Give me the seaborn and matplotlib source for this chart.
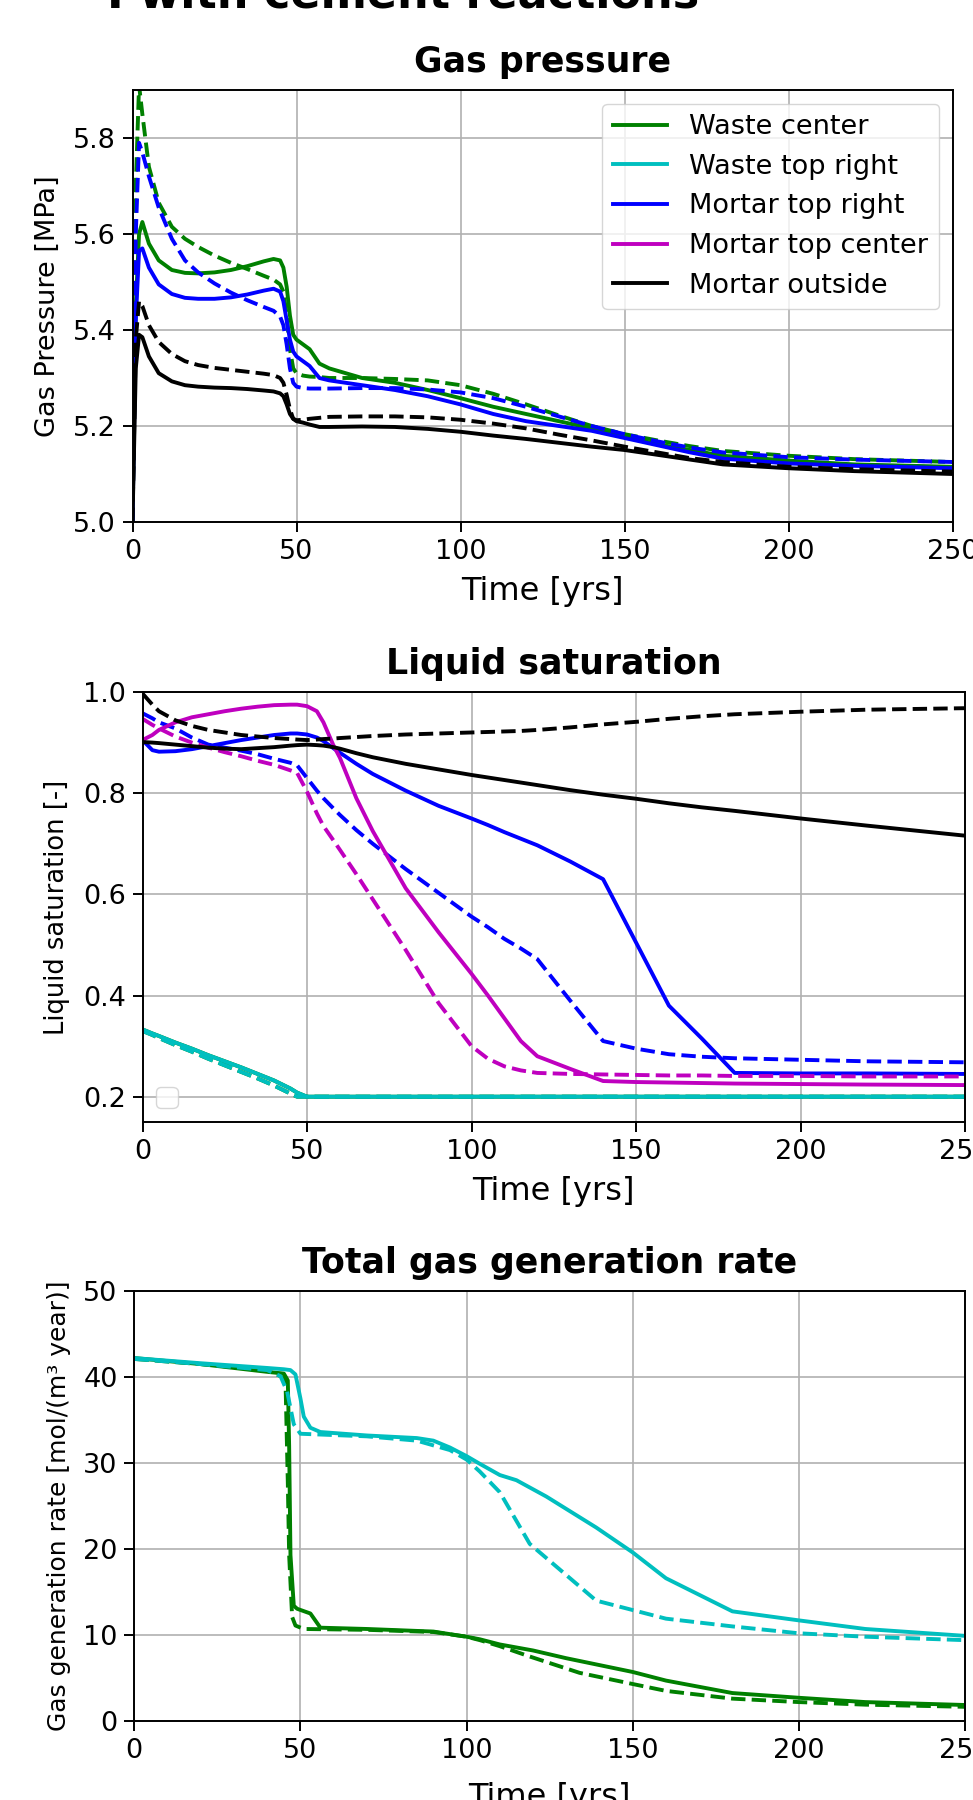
import matplotlib
matplotlib.use("Agg")
import matplotlib.pyplot as plt
import seaborn as sns
from matplotlib.lines import Line2D

# ---- data ---------------------------------------------------------------

# gas pressure [MPa], common time grid
t_press = [0, 1, 2, 3, 5, 8, 12, 16, 20, 25, 30, 35, 40, 43, 45, 46, 47, 48, 49, 50,
           52, 54, 57, 60, 70, 80, 90, 100, 110, 120, 130, 140, 150, 160, 170, 180,
           200, 220, 250]
p_center = [5.0, 5.45, 5.60, 5.625, 5.58, 5.545, 5.525, 5.519, 5.518, 5.52, 5.525, 5.533,
            5.543, 5.548, 5.545, 5.53, 5.49, 5.43, 5.39, 5.38, 5.37, 5.36, 5.33, 5.32,
            5.30, 5.29, 5.275, 5.258, 5.24, 5.225, 5.21, 5.195, 5.178, 5.162, 5.15,
            5.138, 5.128, 5.12, 5.115]
p_center_ref = [5.0, 5.7, 5.91, 5.85, 5.74, 5.665, 5.615, 5.59, 5.573, 5.555, 5.54, 5.527,
                5.513, 5.505, 5.495, 5.48, 5.43, 5.36, 5.32, 5.31, 5.305, 5.303, 5.302,
                5.30, 5.30, 5.298, 5.295, 5.285, 5.267, 5.245, 5.222, 5.20, 5.183, 5.17,
                5.158, 5.148, 5.138, 5.131, 5.125]
p_mtr = [5.0, 5.42, 5.565, 5.57, 5.53, 5.495, 5.475, 5.467, 5.465, 5.465, 5.468, 5.474,
         5.482, 5.486, 5.48, 5.46, 5.42, 5.38, 5.355, 5.345, 5.335, 5.325, 5.30, 5.295,
         5.285, 5.275, 5.262, 5.245, 5.225, 5.21, 5.20, 5.19, 5.175, 5.16, 5.145, 5.132,
         5.122, 5.117, 5.112]
p_mtr_ref = [5.0, 5.6, 5.79, 5.77, 5.72, 5.655, 5.59, 5.545, 5.52, 5.497, 5.478, 5.462,
             5.448, 5.44, 5.428, 5.41, 5.37, 5.32, 5.29, 5.282, 5.279, 5.278, 5.278, 5.278,
             5.279, 5.279, 5.276, 5.27, 5.258, 5.24, 5.22, 5.20, 5.183, 5.168, 5.155,
             5.145, 5.135, 5.13, 5.125]
p_out = [5.0, 5.32, 5.39, 5.385, 5.345, 5.31, 5.293, 5.285, 5.282, 5.28, 5.279, 5.277,
         5.274, 5.272, 5.268, 5.262, 5.245, 5.225, 5.215, 5.21, 5.207, 5.203, 5.198, 5.198,
         5.199, 5.198, 5.194, 5.188, 5.18, 5.173, 5.165, 5.157, 5.15, 5.14, 5.13, 5.12,
         5.112, 5.106, 5.10]
p_out_ref = [5.0, 5.38, 5.46, 5.45, 5.41, 5.375, 5.35, 5.335, 5.327, 5.321, 5.317, 5.313,
             5.309, 5.306, 5.30, 5.29, 5.265, 5.235, 5.215, 5.212, 5.213, 5.215, 5.217,
             5.219, 5.22, 5.22, 5.218, 5.213, 5.205, 5.195, 5.182, 5.17, 5.157, 5.145,
             5.133, 5.125, 5.115, 5.11, 5.105]

# liquid saturation [-], common time grid
t_sat = [0, 3, 5, 10, 15, 20, 25, 30, 35, 40, 45, 47, 50, 53, 55, 58, 60, 65, 70, 80,
         90, 100, 105, 110, 115, 120, 130, 140, 150, 160, 170, 180, 200, 220, 250]
s_waste = [0.333, 0.325, 0.32, 0.307, 0.295, 0.282, 0.27, 0.258, 0.245, 0.232, 0.216,
           0.208, 0.2, 0.2, 0.2, 0.2, 0.2, 0.2, 0.2, 0.2, 0.2, 0.2, 0.2, 0.2, 0.2, 0.2,
           0.2, 0.2, 0.2, 0.2, 0.2, 0.2, 0.2, 0.2, 0.2]
s_waste_ref = [0.33, 0.322, 0.316, 0.302, 0.289, 0.275, 0.262, 0.249, 0.236, 0.222, 0.206,
               0.2, 0.2, 0.2, 0.2, 0.2, 0.2, 0.2, 0.2, 0.2, 0.2, 0.2, 0.2, 0.2, 0.2, 0.2,
               0.2, 0.2, 0.2, 0.2, 0.2, 0.2, 0.2, 0.2, 0.2]
s_mtr = [0.905, 0.885, 0.882, 0.883, 0.887, 0.893, 0.899, 0.905, 0.91, 0.915, 0.918, 0.918,
         0.916, 0.91, 0.903, 0.889, 0.88, 0.858, 0.838, 0.805, 0.775, 0.75, 0.737, 0.723,
         0.71, 0.697, 0.665, 0.63, 0.505, 0.38, 0.315, 0.247, 0.246, 0.246, 0.245]
s_mtr_ref = [0.958, 0.948, 0.94, 0.928, 0.91, 0.896, 0.89, 0.884, 0.877, 0.868, 0.86, 0.855,
             0.83, 0.805, 0.79, 0.77, 0.757, 0.727, 0.70, 0.65, 0.603, 0.556, 0.535, 0.512,
             0.493, 0.472, 0.39, 0.31, 0.295, 0.284, 0.279, 0.276, 0.273, 0.27, 0.268]
s_mtc = [0.905, 0.915, 0.925, 0.94, 0.95, 0.956, 0.962, 0.967, 0.971, 0.974, 0.975, 0.975,
         0.972, 0.962, 0.94, 0.895, 0.87, 0.79, 0.725, 0.612, 0.525, 0.443, 0.40, 0.355,
         0.31, 0.28, 0.255, 0.231, 0.229, 0.228, 0.227, 0.226, 0.225, 0.224, 0.223]
s_mtc_ref = [0.947, 0.935, 0.928, 0.912, 0.90, 0.89, 0.881, 0.873, 0.864, 0.856, 0.845, 0.84,
             0.803, 0.76, 0.735, 0.707, 0.688, 0.64, 0.59, 0.49, 0.385, 0.30, 0.275, 0.26,
             0.252, 0.247, 0.245, 0.244, 0.243, 0.242, 0.242, 0.241, 0.241, 0.24, 0.24]
s_out = [0.901, 0.90, 0.899, 0.896, 0.893, 0.89, 0.888, 0.887, 0.889, 0.891, 0.894, 0.895,
         0.896, 0.895, 0.894, 0.891, 0.888, 0.879, 0.871, 0.858, 0.847, 0.836, 0.831, 0.826,
         0.821, 0.816, 0.806, 0.797, 0.789, 0.78, 0.772, 0.765, 0.75, 0.736, 0.716]
s_out_ref = [0.997, 0.975, 0.962, 0.944, 0.933, 0.925, 0.92, 0.915, 0.912, 0.909, 0.907,
             0.906, 0.905, 0.906, 0.907, 0.908, 0.909, 0.911, 0.913, 0.916, 0.918, 0.92,
             0.921, 0.922, 0.923, 0.925, 0.93, 0.936, 0.941, 0.947, 0.952, 0.956, 0.961,
             0.965, 0.968]

# total gas generation rate [mol/(m3 year)]
t_rate_c = [0, 20, 40, 45, 46.2, 46.6, 47, 48, 49, 53, 56, 70, 90, 100, 104, 110, 120,
            130, 140, 150, 160, 180, 200, 220, 250]
r_center = [42.2, 41.5, 40.6, 40.4, 39.6, 32.0, 19.3, 13.4, 13.05, 12.5, 10.85, 10.7, 10.4,
            9.8, 9.5, 8.9, 8.2, 7.3, 6.5, 5.7, 4.7, 3.25, 2.7, 2.2, 1.86]
t_rate_c_ref = [0, 20, 40, 44, 45.5, 46.2, 46.6, 47.5, 48.5, 51, 70, 90, 100, 104, 110, 119,
                134, 150, 160, 180, 200, 220, 250]
r_center_ref = [42.1, 41.5, 40.8, 40.1, 39.6, 27.7, 19.3, 12.1, 11.1, 10.7, 10.6, 10.35, 9.8,
                9.4, 8.7, 7.5, 5.6, 4.3, 3.5, 2.6, 2.2, 1.9, 1.65]
t_rate_tr = [0, 20, 40, 45, 47, 48.5, 50, 51, 53, 56, 70, 85, 90, 95, 100, 104, 110, 115,
             124, 139, 150, 160, 180, 200, 220, 250]
r_topright = [42.2, 41.6, 41.05, 40.9, 40.8, 40.3, 37.5, 35.4, 34.1, 33.6, 33.2, 32.9, 32.6,
              31.8, 30.8, 29.9, 28.6, 28.0, 26.1, 22.5, 19.6, 16.6, 12.75, 11.7, 10.7, 9.9]
t_rate_tr_ref = [0, 20, 40, 44, 46, 48, 50, 70, 85, 95, 100, 104, 110, 119, 139, 160, 180,
                 200, 220, 250]
r_topright_ref = [42.1, 41.5, 40.8, 40.1, 38.3, 34.5, 33.4, 33.1, 32.6, 31.5, 30.4, 29.0,
                  26.6, 20.6, 14.0, 11.9, 11.0, 10.2, 9.8, 9.4]

legend_labels = ["Waste center", "Waste top right", "Mortar top right",
                 "Mortar top center", "Mortar outside"]
legend_colors = ["g", "c", "b", "m", "k"]

# ---- styling ------------------------------------------------------------
plt.rcParams.update({
    "font.family": ["DejaVu Sans"],
    "axes.linewidth": 1.4,
    "xtick.major.size": 7, "ytick.major.size": 7,
    "xtick.major.width": 1.4, "ytick.major.width": 1.4,
    "xtick.major.pad": 5, "ytick.major.pad": 5,
    "xtick.labelsize": 19.5, "ytick.labelsize": 19.5,
    "grid.color": "#b0b0b0", "grid.linewidth": 1.2,
})
LW = 2.8


def curve(ax, t, v, color, ls="-"):
    sns.lineplot(x=t, y=v, ax=ax, color=color, linestyle=ls, linewidth=LW,
                 estimator=None, sort=False)


def finish(ax, title, ylabel, ylim, yticks, ysize=18.5, xpad=8):
    ax.set_xlim(0, 250)
    ax.set_ylim(*ylim)
    ax.set_yticks(yticks)
    ax.set_xticks([0, 50, 100, 150, 200, 250])
    ax.grid(True)
    ax.set_title(title, fontsize=25, fontweight="bold", pad=13)
    ax.set_xlabel("Time [yrs]", fontsize=23, labelpad=xpad)
    ax.set_ylabel(ylabel, fontsize=ysize, labelpad=9)


W, H = 973, 1800
fig = plt.figure(figsize=(W / 100, H / 100), dpi=100)
fig.text(107 / W, 1 - 8 / H, "I with cement reactions", fontsize=32,
         fontweight="bold", ha="left", va="baseline")

# panel 1: gas pressure
ax1 = fig.add_axes([132.5 / W, 1 - 522 / H, 820 / W, 432 / H])
curve(ax1, t_press, p_center, "g")
curve(ax1, t_press, p_center_ref, "g", "--")
curve(ax1, t_press, p_mtr, "b")
curve(ax1, t_press, p_mtr_ref, "b", "--")
curve(ax1, t_press, p_out, "k")
curve(ax1, t_press, p_out_ref, "k", "--")
finish(ax1, "Gas pressure", "Gas Pressure [MPa]", (5.0, 5.9), [5.0, 5.2, 5.4, 5.6, 5.8],
       ysize=19.5)
handles = [Line2D([], [], color=c, lw=LW) for c in legend_colors]
ax1.legend(handles, legend_labels, loc="upper right", fontsize=19.5)

# panel 2: liquid saturation
ax2 = fig.add_axes([142.5 / W, 1 - 1122 / H, 822.5 / W, 430 / H])
curve(ax2, t_sat, s_waste, "g")
curve(ax2, t_sat, s_waste_ref, "g", "--")
curve(ax2, t_sat, s_waste, "c")
curve(ax2, t_sat, s_waste_ref, "c", "--")
curve(ax2, t_sat, s_mtr, "b")
curve(ax2, t_sat, s_mtr_ref, "b", "--")
curve(ax2, t_sat, s_mtc, "m")
curve(ax2, t_sat, s_mtc_ref, "m", "--")
curve(ax2, t_sat, s_out, "k")
curve(ax2, t_sat, s_out_ref, "k", "--")
finish(ax2, "Liquid saturation", "Liquid saturation [-]", (0.15, 1.0),
       [0.2, 0.4, 0.6, 0.8, 1.0])
ax2.legend(handles=[], labels=[], loc="lower left", fontsize=19.5)

# panel 3: gas generation rate
ax3 = fig.add_axes([134.3 / W, 1 - 1721 / H, 830.7 / W, 430 / H])
curve(ax3, t_rate_c, r_center, "g")
curve(ax3, t_rate_c_ref, r_center_ref, "g", "--")
curve(ax3, t_rate_tr, r_topright, "c")
curve(ax3, t_rate_tr_ref, r_topright_ref, "c", "--")
finish(ax3, "Total gas generation rate", "Gas generation rate [mol/(m³ year)]",
       (0, 50), [0, 10, 20, 30, 40, 50], ysize=18, xpad=13)

fig.savefig("out.png", dpi=100)
